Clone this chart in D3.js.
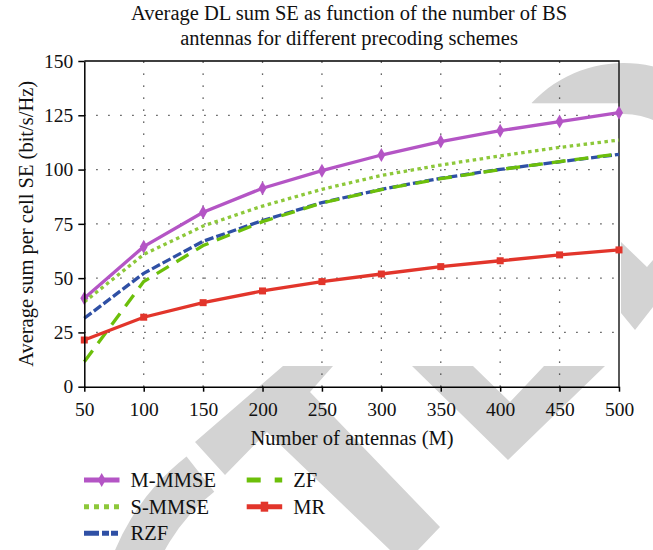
<!DOCTYPE html>
<html>
<head>
<meta charset="utf-8">
<script src="https://cdn.jsdelivr.net/npm/d3@7"></script>
<style>
  body { margin: 0; background: #fff; }
  text { font-family: "Liberation Serif", "DejaVu Serif", serif; fill: #111; }
</style>
</head>
<body>
<div id="chart"></div>
<script>
var width = 653,
    height = 550;

// chart data
var antennas = [50, 100, 150, 200, 250, 300, 350, 400, 450, 500];
var mmmse = [40.7, 64.5, 80.3, 91.4, 99.5, 106.7, 112.9, 117.9, 122.1, 126.2];
var smmse = [39.0, 60.9, 74.0, 83.2, 90.9, 97.3, 102.1, 106.3, 110.2, 113.6];
var rzf   = [31.5, 52.2, 67.0, 76.5, 84.8, 90.9, 96.0, 100.1, 103.6, 107.0];
var zf    = [11.5, 48.4, 65.0, 76.0, 84.6, 90.8, 95.8, 100.0, 103.7, 107.2];
var mr    = [21.5, 32.0, 38.7, 44.1, 48.4, 51.9, 55.3, 58.0, 60.7, 63.0];

var xTicks = [50, 100, 150, 200, 250, 300, 350, 400, 450, 500];
var yTicks = [0, 25, 50, 75, 100, 125, 150];

var titleLines = ["Average DL sum SE as function of the number of BS",
                  "antennas for different precoding schemes"];

var series = [
    {name: "M-MMSE", values: mmmse, color: "#b455c5", dash: null, legDash: null, marker: "diamond"},
    {name: "S-MMSE", values: smmse, color: "#8dc83a", dash: "3.5,3.5", legDash: "5,5", marker: null},
    {name: "RZF", values: rzf, color: "#2f50a5", dash: "9,3", legDash: "15,3,7,2,7", marker: null},
    {name: "ZF", values: zf, color: "#6cbf0a", dash: "14,9", legDash: "14,14", marker: null},
    {name: "MR", values: mr, color: "#e2352b", dash: null, legDash: null, marker: "square"}
];

var margin = {left: 84.3, right: 34, top: 61, bottom: 163.3};

var x = d3.scaleLinear()
    .domain([50, 500])
    .range([margin.left, width - margin.right]);

var y = d3.scaleLinear()
    .domain([0, 150])
    .range([height - margin.bottom, margin.top]);

var svg = d3.select("#chart").append("svg")
    .attr("width", width)
    .attr("height", height);

// publisher watermark behind the chart
var wm = svg.append("g").attr("fill", "#d3d3d3");
wm.append("path")
    .attr("transform", "translate(623.7,189)")
    .attr("d", d3.arc()({innerRadius: 75, outerRadius: 126, startAngle: -47 * Math.PI / 180, endAngle: 60 * Math.PI / 180}));
wm.append("path")
    .attr("transform", "translate(330,640)")
    .attr("d", d3.arc()({innerRadius: 188, outerRadius: 233, startAngle: -120 * Math.PI / 180, endAngle: -38 * Math.PI / 180}));
wm.append("polygon")
    .attr("points", "283,366 333,366 310,392 440,527 418,550 390,550 267,432 225,475 195,442");
wm.append("polygon")
    .attr("points", "412,366 473,366 510,402 544,366 605,366 508,460");
wm.append("polygon")
    .attr("points", "621,242 647,267 653,260 653,307 635,330 621,313");
// the watermark is hidden behind the middle of the plot
svg.append("rect")
    .attr("x", x(50))
    .attr("y", 103.3)
    .attr("width", x(500) - x(50))
    .attr("height", 366 - 103.3)
    .attr("fill", "#fff");

// dotted grid
var grid = svg.append("g")
    .attr("stroke", "#333")
    .attr("stroke-width", 1.3)
    .attr("stroke-dasharray", "1.3,10.7");

grid.selectAll(".vgrid")
    .data(xTicks.slice(1, -1))
    .enter().append("line")
    .attr("x1", function(d) { return x(d); })
    .attr("x2", function(d) { return x(d); })
    .attr("y1", y(0))
    .attr("y2", y(150));

grid.selectAll(".hgrid")
    .data(yTicks.slice(1, -1))
    .enter().append("line")
    .attr("x1", x(50))
    .attr("x2", x(500))
    .attr("y1", function(d) { return y(d); })
    .attr("y2", function(d) { return y(d); });

// box top and right
svg.append("path")
    .attr("d", "M" + x(50) + "," + y(150) + "H" + x(500) + "V" + y(0))
    .attr("fill", "none")
    .attr("stroke", "#000")
    .attr("stroke-width", 1.3);

var line = d3.line()
    .x(function(d, i) { return x(antennas[i]); })
    .y(function(d) { return y(d); });

var diamond = "M0,-7L4,0L0,7L-4,0Z";

series.forEach(function(s) {
    svg.append("path")
        .datum(s.values)
        .attr("d", line)
        .attr("fill", "none")
        .attr("stroke", s.color)
        .attr("stroke-width", 3.3)
        .attr("stroke-dasharray", s.dash);

    if (s.marker == "diamond") {
        svg.selectAll(null)
            .data(s.values)
            .enter().append("path")
            .attr("d", diamond)
            .attr("transform", function(d, i) { return "translate(" + x(antennas[i]) + "," + y(d) + ")"; })
            .attr("fill", s.color);
    } else if (s.marker == "square") {
        svg.selectAll(null)
            .data(s.values)
            .enter().append("rect")
            .attr("x", function(d, i) { return x(antennas[i]) - 3.5; })
            .attr("y", function(d) { return y(d) - 3.5; })
            .attr("width", 7)
            .attr("height", 7)
            .attr("fill", s.color);
    }
});

// axes
var xAxis = svg.append("g")
    .attr("transform", "translate(0," + y(0) + ")")
    .call(d3.axisBottom(x).tickValues(xTicks).tickSize(5).tickPadding(10).tickSizeOuter(0));

var yAxis = svg.append("g")
    .attr("transform", "translate(" + x(50) + ",0)")
    .call(d3.axisLeft(y).tickValues(yTicks).tickSize(6).tickPadding(5).tickSizeOuter(0));

[xAxis, yAxis].forEach(function(a) {
    a.select(".domain").attr("stroke", "#000").attr("stroke-width", 1.5);
    a.selectAll(".tick line").attr("stroke", "#000").attr("stroke-width", 1.5);
    a.selectAll(".tick text")
        .style("font-family", "'Liberation Serif', serif")
        .style("font-size", "19.5px")
        .attr("fill", "#111");
});

// title
svg.append("g").selectAll("text")
    .data(titleLines)
    .enter().append("text")
    .attr("x", 349)
    .attr("y", function(d, i) { return 19.5 + i * 25.5; })
    .attr("text-anchor", "middle")
    .style("font-size", "20.5px")
    .text(function(d) { return d; });

svg.append("text")
    .attr("x", 352)
    .attr("y", 445)
    .attr("text-anchor", "middle")
    .style("font-size", "20.5px")
    .text("Number of antennas (M)");

svg.append("text")
    .attr("transform", "translate(33," + ((y(0) + y(150)) / 2) + ") rotate(-90)")
    .attr("text-anchor", "middle")
    .style("font-size", "20.5px")
    .text("Average sum per cell SE (bit/s/Hz)");

// legend
var legPos = [
    {x: 84, y: 480}, {x: 84, y: 506.7}, {x: 84, y: 533.3},
    {x: 246.7, y: 480}, {x: 246.7, y: 506.7}
];

var leg = svg.append("g").selectAll("g")
    .data(series)
    .enter().append("g")
    .attr("transform", function(d, i) { return "translate(" + legPos[i].x + "," + legPos[i].y + ")"; });

leg.append("line")
    .attr("x1", 0)
    .attr("x2", 35.5)
    .attr("stroke", function(d) { return d.color; })
    .attr("stroke-width", 5)
    .attr("stroke-dasharray", function(d) { return d.legDash; });

leg.filter(function(d) { return d.marker == "diamond"; })
    .append("path")
    .attr("d", diamond)
    .attr("transform", "translate(17.7,0)")
    .attr("fill", function(d) { return d.color; });

leg.filter(function(d) { return d.marker == "square"; })
    .append("rect")
    .attr("x", 14)
    .attr("y", -5)
    .attr("width", 7.5)
    .attr("height", 10)
    .attr("fill", function(d) { return d.color; });

leg.append("text")
    .attr("x", 46.5)
    .attr("dy", "0.35em")
    .style("font-size", "20.5px")
    .text(function(d) { return d.name; });
</script>
</body>
</html>
